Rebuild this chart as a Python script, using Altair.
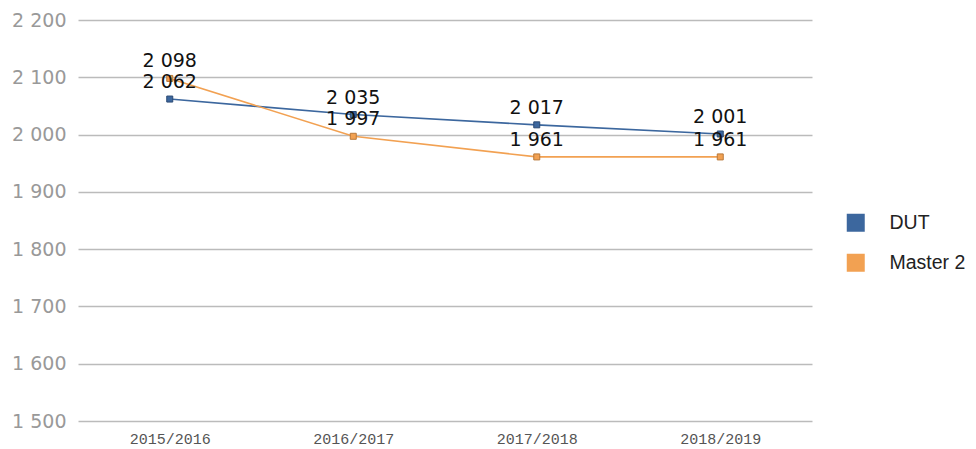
import altair as alt
import pandas as pd

years = ["2015/2016", "2016/2017", "2017/2018", "2018/2019"]
dut = [2062, 2035, 2017, 2001]
master2 = [2098, 1997, 1961, 1961]
series = ["DUT", "Master 2"]
colors = ["#3c679e", "#f2a152"]
strokes = ["#2a4a73", "#b9783a"]

rows = []
for i, y in enumerate(years):
    rows.append({"year": y, "serie": "DUT", "value": dut[i]})
    rows.append({"year": y, "serie": "Master 2", "value": master2[i]})
df = pd.DataFrame(rows)

x = alt.X("year:N", sort=years, title=None,
          scale=alt.Scale(paddingInner=0, paddingOuter=0.5),
          axis=alt.Axis(labelFont="Liberation Mono", labelFontSize=15, labelColor="#555555",
                        labelAngle=0, domain=False, ticks=False, labelPadding=10, grid=False))
y = alt.Y("value:Q", title=None,
          scale=alt.Scale(domain=[1500, 2200], nice=False, zero=False),
          axis=alt.Axis(values=[1500, 1600, 1700, 1800, 1900, 2000, 2100, 2200],
                        labelExpr="replace(format(datum.value, ','), ',', ' ')",
                        labelFont="DejaVu Sans", labelFontSize=19, labelColor="#999999",
                        domain=False, ticks=False, labelPadding=12,
                        gridColor="#bbbbbb", gridWidth=1.5))
color = alt.Color("serie:N", scale=alt.Scale(domain=series, range=colors),
                  legend=alt.Legend(title=None, orient="none", legendX=768, legendY=193,
                                    symbolType="square", symbolSize=324, symbolStrokeWidth=0,
                                    symbolOpacity=1, labelFont="Liberation Sans", labelFontSize=19.5,
                                    labelColor="#222222", rowPadding=19, labelOffset=24,
                                    labelLimit=200))

base = alt.Chart(df).encode(x=x, y=y)
lines = base.mark_line(strokeWidth=1.6).encode(color=color)
points = base.mark_point(shape="square", filled=True, size=36, opacity=1, strokeWidth=1).encode(
    color=alt.Color("serie:N", scale=alt.Scale(domain=series, range=colors), legend=None),
    stroke=alt.Stroke("serie:N", scale=alt.Scale(domain=series, range=strokes), legend=None))
labels = base.transform_calculate(
    lab="replace(format(datum.value, ','), ',', ' ')"
).mark_text(font="DejaVu Sans", fontSize=19, color="#111111", dy=-17).encode(text="lab:N")

chart = alt.layer(lines, points, labels).properties(
    width=734, height=401,
    autosize=alt.AutoSizeParams(type="none"),
    padding={"left": 70, "top": 12, "right": 156, "bottom": 28},
).configure_view(stroke=None)

chart.save("out.html", embed_options={"renderer": "svg", "actions": False})
